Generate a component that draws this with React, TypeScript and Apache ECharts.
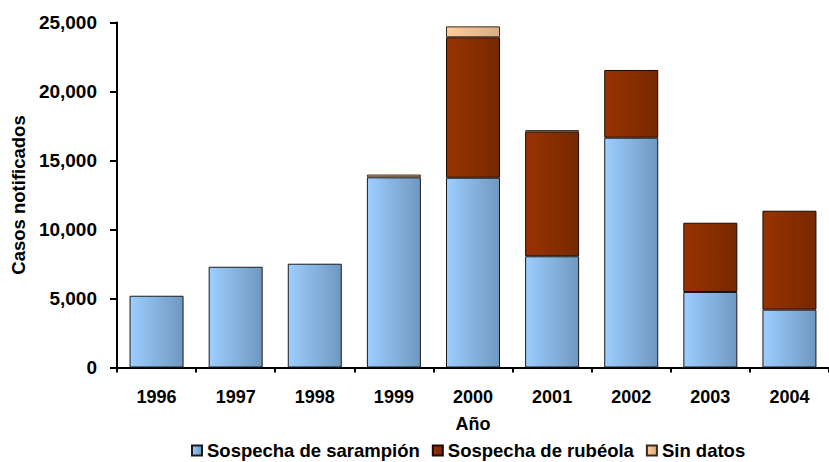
import React, { useEffect, useRef } from "react";
import * as echarts from "echarts";

const years = ["1996", "1997", "1998", "1999", "2000", "2001", "2002", "2003", "2004"];
const sarampion = [5200, 7300, 7520, 13780, 13750, 8060, 16650, 5470, 4190];
const rubeola = [null, null, null, null, 10180, 9030, 4910, 5020, 7170];
const sinDatos = [null, null, null, 200, 790, 110, null, null, null];
const yTicks = [0, 5000, 10000, 15000, 20000, 25000];

const FONT = "'Liberation Sans', Arial, sans-serif";

function grad(a: string, b: string) {
  return new echarts.graphic.LinearGradient(0, 0, 1, 0, [
    { offset: 0, color: a },
    { offset: 1, color: b },
  ]);
}

export default function App() {
  const ref = useRef<HTMLDivElement>(null);
  useEffect(() => {
    if (!ref.current) return;
    const chart = echarts.init(ref.current, undefined, { renderer: "svg" });
    const blue = grad("#9CCEFF", "#6F98C0");
    const brown = grad("#993300", "#772800");
    const peach = grad("#FFCC99", "#D9AE86");
    chart.setOption({
      animation: false,
      backgroundColor: "#ffffff",
      textStyle: { fontFamily: FONT },
      grid: { left: 117, top: 22.5, height: 345, width: 724 },
      legend: {
        left: 191,
        top: 441,
        padding: 0,
        icon: "rect",
        itemWidth: 10,
        itemHeight: 10,
        itemGap: 12,
        textStyle: { fontFamily: FONT, fontWeight: "bold", fontSize: 18.5, color: "#000" },
        data: ["Sospecha de sarampión", "Sospecha de rubéola", "Sin datos"],
      },
      xAxis: {
        type: "category",
        data: years,
        name: "Año",
        nameLocation: "middle",
        nameGap: 47,
        nameTextStyle: { fontFamily: FONT, fontWeight: "bold", fontSize: 18, color: "#000" },
        axisLine: { lineStyle: { color: "#000", width: 2 } },
        axisTick: { show: true, length: 5, lineStyle: { color: "#000", width: 2 } },
        axisLabel: { margin: 20, fontFamily: FONT, fontWeight: "bold", fontSize: 18, color: "#000" },
      },
      yAxis: {
        type: "value",
        min: 0,
        max: 25000,
        interval: 5000,
        name: "Casos notificados",
        nameLocation: "middle",
        nameGap: 88,
        nameRotate: 90,
        nameTextStyle: { fontFamily: FONT, fontWeight: "bold", fontSize: 18.5, color: "#000" },
        axisLine: { show: true, lineStyle: { color: "#000", width: 2 } },
        axisTick: { show: true, length: 7, lineStyle: { color: "#000", width: 2 } },
        axisLabel: {
          margin: 20,
          fontFamily: FONT,
          fontWeight: "bold",
          fontSize: 19,
          color: "#000",
          formatter: (v: number) => (yTicks.includes(v) ? v.toLocaleString("en-US") : ""),
        },
        splitLine: { show: false },
      },
      series: [
        {
          name: "Sospecha de sarampión",
          type: "bar",
          stack: "t",
          barWidth: 54,
          data: sarampion,
          itemStyle: { color: blue, borderColor: "#1a1a1a", borderWidth: 1 },
        },
        {
          name: "Sospecha de rubéola",
          type: "bar",
          stack: "t",
          barWidth: 54,
          data: rubeola,
          itemStyle: { color: brown, borderColor: "#1a0a00", borderWidth: 1 },
        },
        {
          name: "Sin datos",
          type: "bar",
          stack: "t",
          barWidth: 54,
          data: sinDatos,
          itemStyle: { color: peach, borderColor: "#3a2a1a", borderWidth: 1 },
        },
      ],
    });
    return () => chart.dispose();
  }, []);
  return (
    <div
      ref={ref}
      style={{ position: "fixed", left: 0, top: 0, width: 829, height: 462 }}
    />
  );
}
